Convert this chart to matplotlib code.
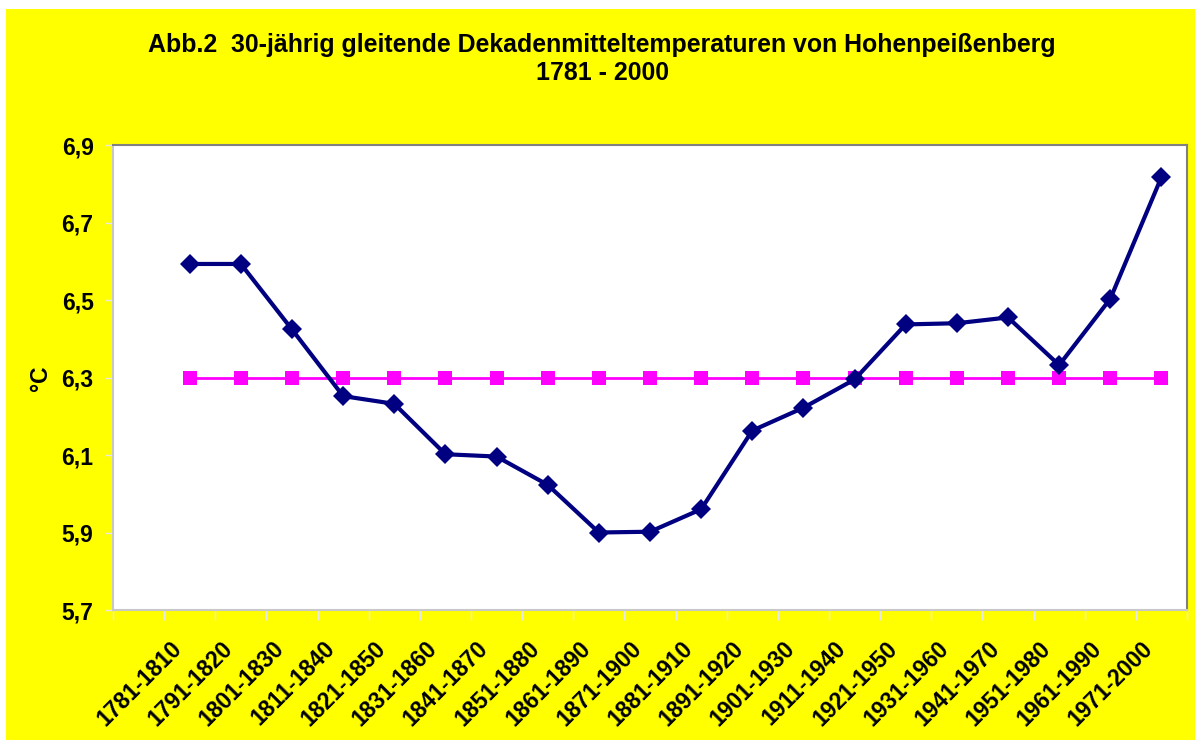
import matplotlib
matplotlib.use("Agg")
import matplotlib.pyplot as plt
import matplotlib.patches as mpatches
from matplotlib.transforms import ScaledTranslation
import numpy as np

plt.rcParams['font.family'] = ['Liberation Sans', 'DejaVu Sans']

# --- data ---
periods = ["1781-1810", "1791-1820", "1801-1830", "1811-1840", "1821-1850",
           "1831-1860", "1841-1870", "1851-1880", "1861-1890", "1871-1900",
           "1881-1910", "1891-1920", "1901-1930", "1911-1940", "1921-1950",
           "1931-1960", "1941-1970", "1951-1980", "1961-1990", "1971-2000"]
temps = [6.593, 6.593, 6.424, 6.252, 6.232, 6.102, 6.096, 6.023, 5.900, 5.902,
         5.960, 6.163, 6.222, 6.295, 6.437, 6.440, 6.455, 6.332, 6.503, 6.817]
mean_line = [6.3] * len(periods)
yticks = [5.7, 5.9, 6.1, 6.3, 6.5, 6.7, 6.9]
ytick_labels = ["5,7", "5,9", "6,1", "6,3", "6,5", "6,7", "6,9"]
title = "Abb.2  30-jährig gleitende Dekadenmitteltemperaturen von Hohenpeißenberg\n1781 - 2000"

W, H = 1195, 740
fig = plt.figure(figsize=(W / 100, H / 100), dpi=100)
fig.patch.set_facecolor("white")

# yellow chart area
bg = mpatches.Rectangle((6 / W, 0), 1 - 6 / W, 1 - 9 / H, transform=fig.transFigure,
                        facecolor="#FFFF00", edgecolor="none", zorder=-10)
fig.patches.append(bg)

left, right, top, bottom = 113, 1187, 145, 610
ax = fig.add_axes([left / W, 1 - bottom / H, (right - left) / W, (bottom - top) / H])
ax.set_facecolor("white")

x = np.arange(1, len(periods) + 1)
ax.plot(x, mean_line, color="#FF00FF", lw=2.0, marker="s", markersize=9.5,
        markeredgewidth=0, zorder=3)
ax.plot(x, temps, color="#000080", lw=3.0, marker="D", markersize=10.5,
        markeredgewidth=0, zorder=4)

ax.set_xlim(-0.5, len(periods) + 0.5)
ax.set_ylim(5.7, 6.9)

ax.set_yticks(yticks)
ax.set_yticklabels(ytick_labels, fontsize=16.5, fontweight="bold")
ax.tick_params(axis="y", length=6, width=1, color="#E8E8E8", pad=8, direction="out")

ax.set_xticks(x)
ax.set_xticklabels(periods, fontsize=16.5, fontweight="bold",
                   rotation=45, ha="right", va="top", rotation_mode="anchor")
ax.tick_params(axis="x", which="major", length=0, pad=19.5)
ax.set_xticks(np.arange(-0.5, len(periods) + 1, 1.0), minor=True)
ax.tick_params(axis="x", which="minor", length=7, width=1, color="#E8E8E8", direction="out")
offset = ScaledTranslation(-20 / 100, 0, fig.dpi_scale_trans)
for lbl in ax.get_xticklabels():
    lbl.set_transform(lbl.get_transform() + offset)

for side in ["left", "bottom"]:
    ax.spines[side].set_color("#C8C8C8")
    ax.spines[side].set_linewidth(1.5)
for side in ["top", "right"]:
    ax.spines[side].set_color("#808080")
    ax.spines[side].set_linewidth(1.5)

fig.text(40 / W, 1 - 378 / H, "°C", rotation=90, fontsize=16.5, fontweight="bold",
         ha="center", va="center")

fig.text(602 / W, 1 - 59 / H, title, ha="center", va="center", fontsize=17.9,
         fontweight="bold", linespacing=1.17)

fig.savefig("out.png", dpi=100, facecolor=fig.get_facecolor())
